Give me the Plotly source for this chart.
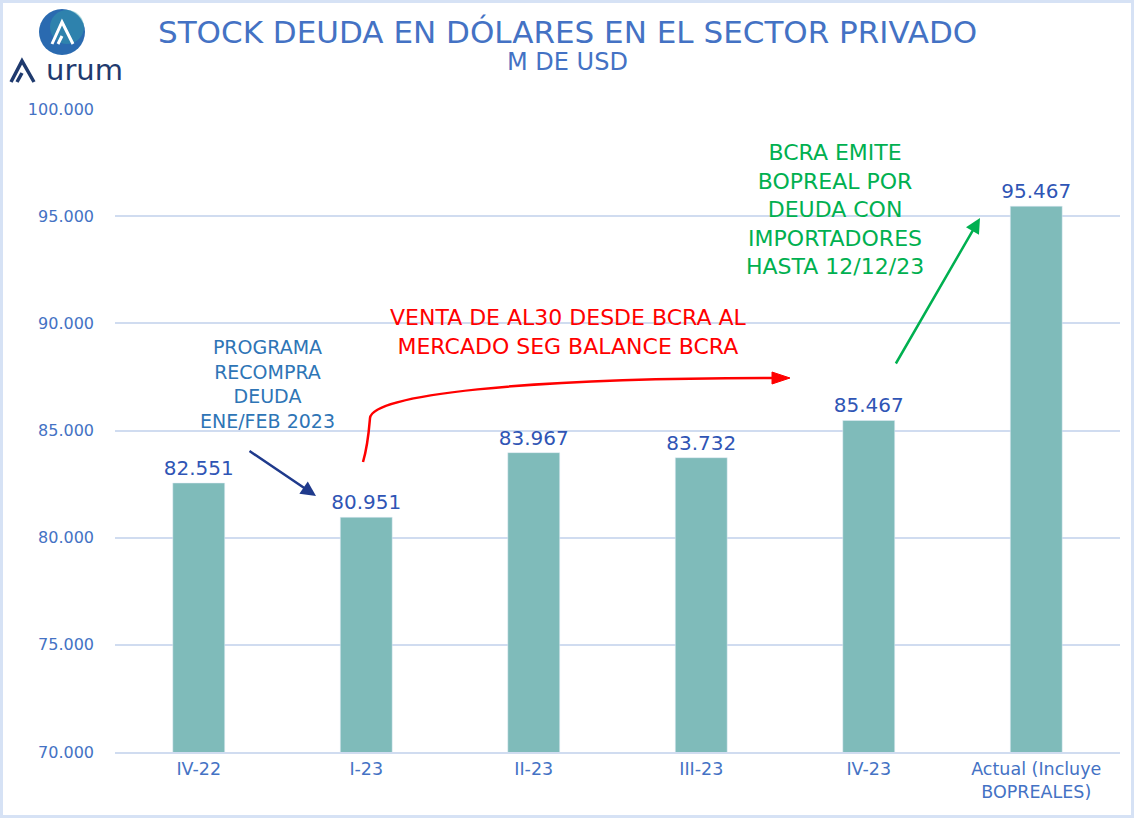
import plotly.graph_objects as go

categories = ["IV-22", "I-23", "II-23", "III-23", "IV-23", "Actual (Incluye<br>BOPREALES)"]
values = [82551, 80951, 83967, 83732, 85467, 95467]
y_ticks = [70000, 75000, 80000, 85000, 90000, 95000, 100000]

W, H = 1134, 818
L, R, T, B = 115, 14, 109, 66
PW, PH = W - L - R, H - T - B

def px(x):
    return (x - L) / PW

def py(y):
    return (H - B - y) / PH

FONT = "DejaVu Sans"
BLUE = "#4472C4"
LBLUE = "#2F55B5"

fig = go.Figure()
fig.add_trace(go.Bar(
    x=categories, y=values, marker_color="#7FBBBA", width=0.31,
    text=values, texttemplate="%{y:,.0f}", textposition="outside",
    constraintext="none",
    textfont=dict(family=FONT, size=20, color=LBLUE), cliponaxis=False,
))

annotations = [
    dict(text="STOCK DEUDA EN DÓLARES EN EL SECTOR PRIVADO", x=px(567), y=py(32),
         font=dict(size=31, color=BLUE)),
    dict(text="M DE USD", x=px(567), y=py(62), font=dict(size=24, color=BLUE)),
    dict(text="urum", x=px(84), y=py(70), font=dict(size=29, color="#1F3A6E")),
    dict(text="PROGRAMA<br>RECOMPRA<br>DEUDA<br>ENE/FEB 2023", x=px(267), y=py(384),
         font=dict(size=19, color="#2E75B6")),
    dict(text="VENTA DE AL30 DESDE BCRA AL<br>MERCADO SEG BALANCE BCRA", x=px(568), y=py(332),
         font=dict(size=22, color="#FF0000")),
    dict(text="BCRA EMITE<br>BOPREAL POR<br>DEUDA CON<br>IMPORTADORES<br>HASTA 12/12/23",
         x=px(835), y=py(209), font=dict(size=22, color="#00B050")),
]
for a in annotations:
    a.update(xref="paper", yref="paper", showarrow=False, xanchor="center", yanchor="middle",
             align="center")
    a["font"]["family"] = FONT

# arrows
arrows = [
    dict(x=px(316), y=py(496), ax=248 - 316, ay=450 - 496, arrowcolor="#1F3A8C", arrowwidth=2.5),
    dict(x=px(980), y=py(218), ax=895 - 980, ay=365 - 218, arrowcolor="#00B050", arrowwidth=2.5),
]
for a in arrows:
    a.update(xref="paper", yref="paper", showarrow=True, arrowhead=2, arrowsize=1.2, text="")
    annotations.append(a)

def P(x, y):
    return f"{px(x)},{py(y)}"

shapes = [
    # red curved arrow
    dict(type="path", xref="paper", yref="paper",
         path=f"M {P(363,462)} C {P(368,445)} {P(369,430)} {P(370,418)} C {P(372,395)} {P(520,378)} {P(775,378)}",
         line=dict(color="#FF0000", width=2.5)),
    dict(type="path", xref="paper", yref="paper",
         path=f"M {P(772,372)} L {P(790,378)} L {P(772,384)} Z",
         fillcolor="#FF0000", line=dict(color="#FF0000", width=1)),
    # logo circle
    dict(type="circle", xref="paper", yref="paper",
         x0=px(39), x1=px(85), y0=py(55), y1=py(9),
         fillcolor="#2A6AB0", line=dict(width=0)),
    dict(type="circle", xref="paper", yref="paper",
         x0=px(50), x1=px(84), y0=py(44), y1=py(10),
         fillcolor="rgba(50,160,170,0.45)", line=dict(width=0)),
    dict(type="path", xref="paper", yref="paper",
         path=f"M {P(52,44)} L {P(62,22)} L {P(73,44)} M {P(58,44)} L {P(62,36)}",
         line=dict(color="white", width=3)),
    # logo 'a' glyph
    dict(type="path", xref="paper", yref="paper",
         path=f"M {P(11,82)} L {P(22,61)} L {P(34,82)} M {P(17,82)} L {P(22,73)}",
         line=dict(color="#1F3A6E", width=3.5)),
    # frame
    dict(type="rect", xref="paper", yref="paper",
         x0=px(0), x1=px(W), y0=py(H), y1=py(0),
         line=dict(color="#D6E2F5", width=6), fillcolor="rgba(0,0,0,0)"),
]

fig.update_layout(
    width=W, height=H, margin=dict(l=L, r=R, t=T, b=B),
    paper_bgcolor="white", plot_bgcolor="white",
    separators=",.", showlegend=False,
    font=dict(family=FONT),
    annotations=annotations, shapes=shapes,
)
fig.update_yaxes(range=[70000, 100000], tickvals=y_ticks, tickformat=",.0f",
                 gridcolor="#D0DCF0", gridwidth=1.5, zeroline=False,
                 tickfont=dict(family=FONT, size=16, color=BLUE), ticklabelstandoff=20, showline=False)
fig.update_xaxes(tickfont=dict(family=FONT, size=17.5, color=BLUE), showline=True,
                 linecolor="#D0DCF0", linewidth=1.5, ticks="")

fig.write_html("out.html")
